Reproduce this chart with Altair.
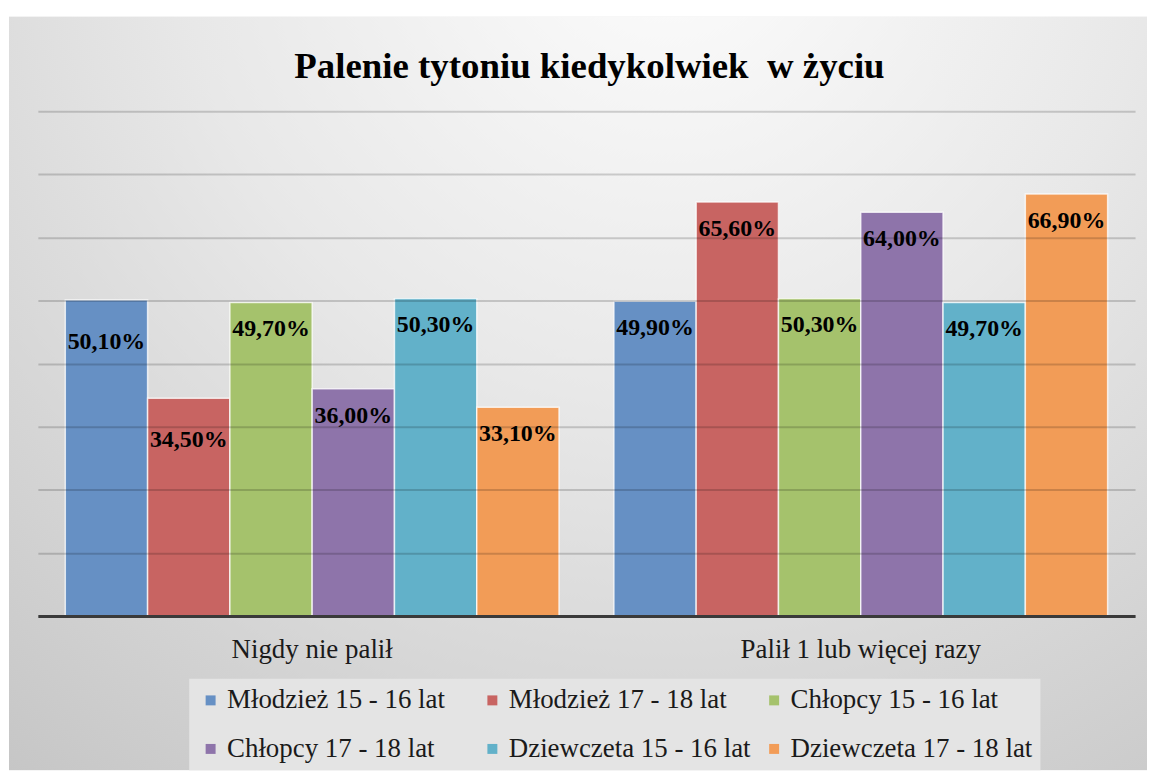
import altair as alt
import pandas as pd

title_text = "Palenie tytoniu kiedykolwiek\u00a0 w życiu"
categories = ["Nigdy nie palił", "Palił 1 lub więcej razy"]
series = [
    "Młodzież 15 - 16 lat",
    "Młodzież 17 - 18 lat",
    "Chłopcy 15 - 16 lat",
    "Chłopcy 17 - 18 lat",
    "Dziewczeta 15 - 16 lat",
    "Dziewczeta 17 - 18 lat",
]
never_values = [50.1, 34.5, 49.7, 36.0, 50.3, 33.1]
ever_values = [49.9, 65.6, 50.3, 64.0, 49.7, 66.9]
colors = ["#6690c4", "#c86462", "#a5c26c", "#8e74aa", "#62b1c9", "#f29c57"]
y_ticks = [0, 10, 20, 30, 40, 50, 60, 70, 80]
# labels that Excel placed lower inside their bars
low_labels = [("Nigdy nie palił", "Młodzież 15 - 16 lat"), ("Nigdy nie palił", "Młodzież 17 - 18 lat")]

rows = []
for cat, vals in zip(categories, [never_values, ever_values]):
    for s, v in zip(series, vals):
        rows.append({
            "category": cat,
            "series": s,
            "value": v,
            "label": f"{v:.2f}".replace(".", ",") + "%",
            "low": (cat, s) in low_labels,
        })
df = pd.DataFrame(rows)

FONT = "Liberation Serif"
W, H = 1102, 507

bg_gradient = alt.RadialGradient(
    gradient="radial",
    x1=0.58, y1=0.08, r1=0.0,
    x2=0.58, y2=0.08, r2=0.95,
    stops=[
        alt.GradientStop(color="#fdfdfd", offset=0.0),
        alt.GradientStop(color="#e8e8e8", offset=0.45),
        alt.GradientStop(color="#c6c6c6", offset=1.0),
    ],
)

one = pd.DataFrame({"d": [0]})
background = alt.Chart(one).mark_rect(fill=bg_gradient).encode(
    x=alt.value(-29), x2=alt.value(W + 12), y=alt.value(-95), y2=alt.value(H + 155)
)
title_mark = alt.Chart(one).mark_text(
    text=title_text, font=FONT, fontSize=37, fontWeight="bold", color="#000000",
    align="center", baseline="alphabetic",
).encode(x=alt.value(W / 2 + 3), y=alt.value(-33))

x_enc = alt.X(
    "category:N",
    sort=categories,
    scale=alt.Scale(paddingInner=0.1, paddingOuter=0.05),
    axis=alt.Axis(
        title=None, ticks=False, labelAngle=0, labelFont=FONT, labelFontSize=27,
        labelColor="#1a1a1a", labelPadding=21, domainColor="#3a3a3a", domainWidth=3,
        zindex=1, labelLimit=400,
    ),
)
y_enc = alt.Y(
    "value:Q",
    scale=alt.Scale(domain=[0, 80], nice=False),
    axis=alt.Axis(
        title=None, labels=False, ticks=False, domain=False, values=y_ticks,
        grid=True, gridColor="#000000", gridOpacity=0.17, gridWidth=2, zindex=1,
    ),
)
xoff = alt.XOffset("series:N", sort=series, scale=alt.Scale(paddingInner=0, paddingOuter=0))

bars = alt.Chart(df).mark_bar(stroke="#ffffff", strokeWidth=1.5, strokeOpacity=0.75).encode(
    x=x_enc,
    y=y_enc,
    xOffset=xoff,
    color=alt.Color(
        "series:N",
        sort=series,
        scale=alt.Scale(domain=series, range=colors),
        legend=alt.Legend(
            title=None, orient="none", legendX=152, legendY=570, direction="horizontal",
            columns=3, gridAlign="all", symbolType="square", symbolSize=100, symbolStrokeWidth=0,
            labelFont=FONT, labelFontSize=27, labelColor="#1a1a1a", labelLimit=400,
            labelOffset=3, columnPadding=10, rowPadding=21, padding=8,
            fillColor="#e4e4e4", zindex=1,
        ),
    ),
)

text_common = dict(font=FONT, fontSize=24, fontWeight="bold", color="#000000", baseline="middle")
labels_std = alt.Chart(df).transform_filter("!datum.low").mark_text(dy=27, **text_common).encode(
    x=alt.X("category:N", sort=categories), y="value:Q", xOffset=alt.XOffset("series:N", sort=series), text="label:N"
)
labels_low = alt.Chart(df).transform_filter("datum.low").mark_text(dy=42, **text_common).encode(
    x=alt.X("category:N", sort=categories), y="value:Q", xOffset=alt.XOffset("series:N", sort=series), text="label:N"
)

chart = alt.layer(background, title_mark, bars, labels_std, labels_low).properties(
    width=W,
    height=H,
    autosize=alt.AutoSizeParams(type="none"),
    padding={"left": 30, "top": 102, "right": 12, "bottom": 155},
).configure_view(strokeWidth=0).configure(background="#ffffff")

chart.save("out.html", embed_options={"renderer": "svg", "actions": False})
